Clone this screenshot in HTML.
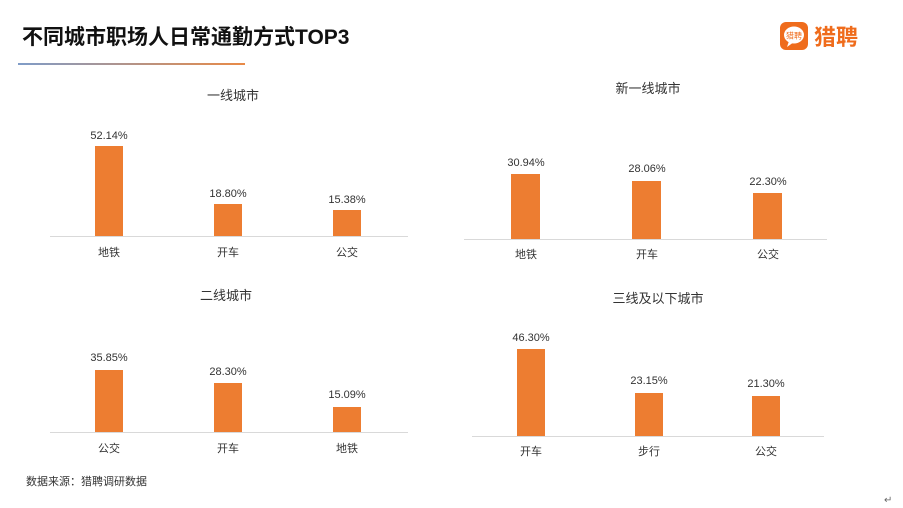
<!DOCTYPE html>
<html><head><meta charset="utf-8"><style>
html,body{margin:0;padding:0;background:#fff;}
svg{display:block;}
text{font-family:"Liberation Sans","Noto Sans CJK SC",sans-serif;}
</style></head><body>
<svg width="903" height="508" viewBox="0 0 903 508" xmlns="http://www.w3.org/2000/svg">
<defs><linearGradient id="g" x1="0" x2="1"><stop offset="0" stop-color="#7f9cc8"/><stop offset="1" stop-color="#e98a46"/></linearGradient></defs>
<text x="22" y="44" font-size="21" font-weight="bold" fill="#111">不同城市职场人日常通勤方式TOP3</text>
<rect x="18" y="63" width="227" height="2" fill="url(#g)"/>
<rect x="780" y="22" width="28" height="28" rx="6" fill="#ef6c1c"/>
<ellipse cx="794" cy="35" rx="10" ry="8.5" fill="#fff"/>
<path d="M789 41 L787 47 L794 42 Z" fill="#fff"/>
<text x="794" y="38.5" font-size="8" text-anchor="middle" fill="#ef6c1c">猎聘</text>
<text x="814" y="45" font-size="22" fill="#ef6c1c" font-weight="bold">猎聘</text>
<g font-size="12" fill="#333" text-anchor="middle">
<text x="233" y="100" font-size="13">一线城市</text>
<text x="648" y="93" font-size="13">新一线城市</text>
<text x="226" y="300" font-size="13">二线城市</text>
<text x="658" y="303" font-size="13">三线及以下城市</text>
</g>
<g fill="#ed7d31">
<rect x="95" y="146" width="28" height="90"/><rect x="214" y="204" width="28" height="32"/><rect x="333" y="210" width="28" height="26"/>
<rect x="511" y="174" width="29" height="65"/><rect x="632" y="181" width="29" height="58"/><rect x="753" y="193" width="29" height="46"/>
<rect x="95" y="370" width="28" height="62"/><rect x="214" y="383" width="28" height="49"/><rect x="333" y="407" width="28" height="25"/>
<rect x="517" y="349" width="28" height="87"/><rect x="635" y="393" width="28" height="43"/><rect x="752" y="396" width="28" height="40"/>
</g>
<g stroke="#d9d9d9" stroke-width="1">
<line x1="50" y1="236.5" x2="408" y2="236.5"/><line x1="464" y1="239.5" x2="827" y2="239.5"/>
<line x1="50" y1="432.5" x2="408" y2="432.5"/><line x1="472" y1="436.5" x2="824" y2="436.5"/>
</g>
<g font-size="11" fill="#333" text-anchor="middle">
<text x="109" y="139">52.14%</text><text x="228" y="197">18.80%</text><text x="347" y="203">15.38%</text>
<text x="109" y="256">地铁</text><text x="228" y="256">开车</text><text x="347" y="256">公交</text>
<text x="526" y="166">30.94%</text><text x="647" y="172">28.06%</text><text x="768" y="185">22.30%</text>
<text x="526" y="258">地铁</text><text x="647" y="258">开车</text><text x="768" y="258">公交</text>
<text x="109" y="361">35.85%</text><text x="228" y="375">28.30%</text><text x="347" y="398">15.09%</text>
<text x="109" y="452">公交</text><text x="228" y="452">开车</text><text x="347" y="452">地铁</text>
<text x="531" y="341">46.30%</text><text x="649" y="384">23.15%</text><text x="766" y="387">21.30%</text>
<text x="531" y="455">开车</text><text x="649" y="455">步行</text><text x="766" y="455">公交</text>
</g>
<text x="26" y="485" font-size="11" fill="#333">数据来源：猎聘调研数据</text>
<text x="884" y="503" font-size="10" fill="#666">↵</text>
</svg>
</body></html>
